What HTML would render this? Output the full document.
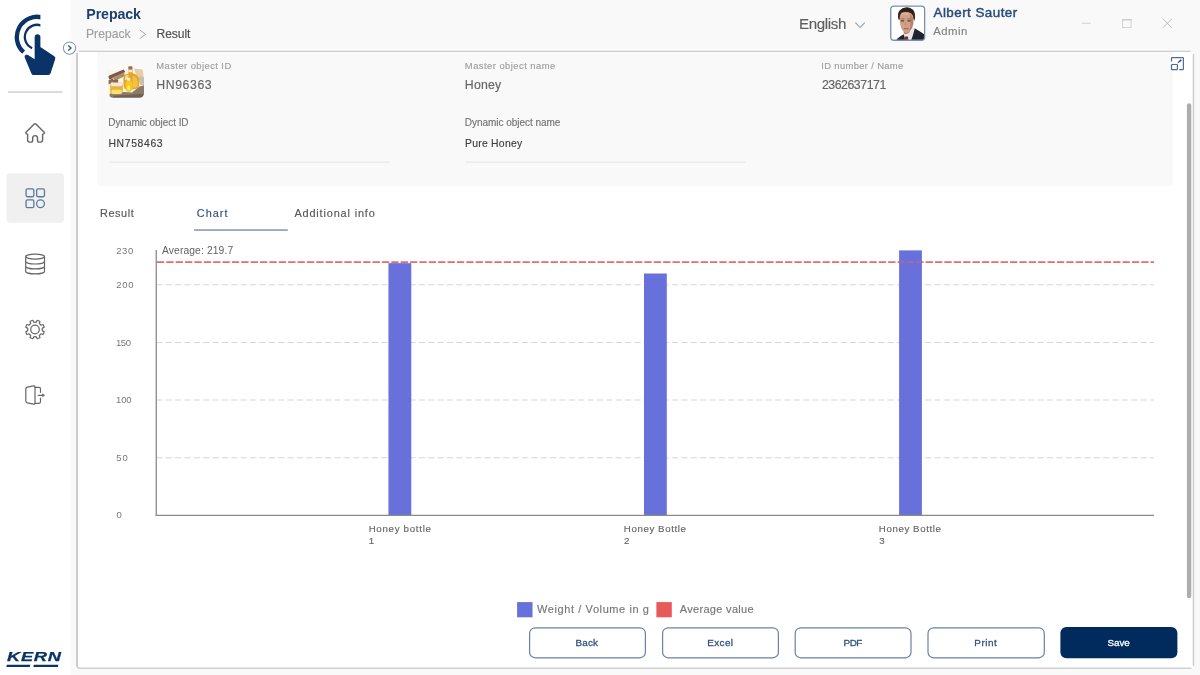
<!DOCTYPE html>
<html lang="en">
<head>
<meta charset="utf-8">
<title>Prepack - Result</title>
<style>
*{box-sizing:border-box;margin:0;padding:0}
html,body{width:1200px;height:675px;overflow:hidden;background:#f9f9f9;font-family:"Liberation Sans",sans-serif}
#app{position:relative;width:1200px;height:675px;overflow:hidden;background:#f9f9f9}
.t{position:absolute;white-space:pre;margin:0;padding:0;border:0;background:none;font-family:"Liberation Sans",sans-serif;font-style:normal;text-align:left;cursor:default}
button.t{cursor:pointer;display:block}
h1.t,p.t{font-weight:400}
#side{position:absolute;left:0;top:0;width:70.5px;height:675px;background:#fff}
svg{position:absolute;overflow:visible}
</style>
</head>
<body>
<div id="app">
  <aside id="side" aria-label="Sidebar"></aside>
    <!--BASE_START-->
<svg width="1200" height="675" viewBox="0 0 1200 675" style="left:0;top:0">
  <!-- content panel -->
  <rect x="77" y="51.4" width="1116.5" height="616.8" rx="2.5" fill="#fff"/>
  <rect x="76.05" y="52.8" width="1.95" height="614" rx="0.6" fill="#cbcbcb"/>
  <path d="M77,665.5 Q77.2,668.2 80,668.2" fill="none" stroke="#cfcfcf" stroke-width="1.4"/>
  <rect x="78.6" y="50.7" width="1112.2" height="1.25" fill="#cdcdcd"/>
  <rect x="1192.7" y="54" width="1.5" height="611.8" fill="#cdcdcd"/>
  <rect x="79.5" y="667.5" width="1112" height="1.45" fill="#d0d0d0"/>
  <!-- info card -->
  <path d="M97.4,52.1 H1173 V182.2 Q1173,186 1169.2,186 H101.2 Q97.4,186 97.4,182.2 Z" fill="#f9f9f9"/>
  <rect x="108.7" y="161.6" width="280.5" height="1.2" fill="#e9e9e9"/>
  <rect x="465.3" y="161.6" width="280.2" height="1.2" fill="#e9e9e9"/>
  <!-- tab underline -->
  <rect x="194" y="229.4" width="93.8" height="1.25" fill="#6281a8"/>
  <!-- scrollbar -->
  <rect x="1186.9" y="103.3" width="4.4" height="494.9" rx="2.2" fill="#adadad"/>
  <!-- buttons -->
  <g fill="#fff" stroke="#6683a5" stroke-width="1.2">
    <rect x="529.6" y="627.8" width="115.8" height="30" rx="5.6"/>
    <rect x="662.6" y="627.8" width="115.8" height="30" rx="5.6"/>
    <rect x="795.2" y="627.8" width="115.8" height="30" rx="5.6"/>
    <rect x="928" y="627.8" width="116.3" height="30" rx="5.6"/>
  </g>
  <rect x="1060.4" y="627.1" width="117" height="31.2" rx="6" fill="#002b5c"/>
</svg>
<!--BASE_END-->
  <!--ICONS_START-->
<svg width="1200" height="675" viewBox="0 0 1200 675" style="left:0;top:0">
  <!-- app logo: touch hand -->
  <clipPath id="cpL"><rect x="0" y="0" width="40.4" height="80"/></clipPath>
  <g fill="none" stroke="#0a3468" clip-path="url(#cpL)">
    <path d="M43.24,17.79 A20.2,20.2 0 0 0 23.62,52.13" stroke-width="4.3"/>
    <path d="M41.96,25.85 A12.2,12.2 0 1 0 32.12,48.18" stroke-width="2.3"/>
  </g>
  <path fill="#0a3468" d="M34.65,37 A2.88,2.88 0 0 1 40.4,37 L40.4,46.9 L54.3,56.2 Q55.8,57.3 55.2,59 L50.6,73.3 Q50,75 48.3,75 L33.5,75 Q32,75 31.4,73.5 L24.7,57.5 Q24,55.4 26,54.8 Q27,54.5 28,55 L34.65,59.2 Z"/>
  <!-- sidebar toggle -->
  <circle cx="69.5" cy="48.1" r="6.15" fill="#fff" stroke="#8199b5" stroke-width="1.05"/>
  <path d="M68.3,45.6 L71,48.1 L68.3,50.6" fill="none" stroke="#3a5a88" stroke-width="1.35" stroke-linejoin="miter"/>
  <!-- divider -->
  <rect x="8" y="91.4" width="54.5" height="1.3" fill="#c9c9c9"/>
  <!-- home -->
  <path d="M34.3,124.1 Q35.1,123.4 35.9,124.1 L44.2,132.2 Q44.9,133 43.9,133.6 L42.6,134.3 L42.6,140 Q42.6,142.1 40.5,142.1 L39.4,142.1 Q37.5,142.1 37.5,140.2 L37.5,138 A2.4,2.4 0 0 0 32.7,138 L32.7,140.2 Q32.7,142.1 30.8,142.1 L29.7,142.1 Q27.6,142.1 27.6,140 L27.6,134.3 L26.3,133.6 Q25.3,133 26,132.2 Z" fill="none" stroke="#666" stroke-width="1.4" stroke-linejoin="round"/>
  <!-- active item -->
  <rect x="6.4" y="173.3" width="57.6" height="49.4" rx="4" fill="#f0f0f0"/>
  <g fill="none" stroke="#5b7a9e" stroke-width="1.3">
    <rect x="26.05" y="188.95" width="7.8" height="7.8" rx="1.4"/>
    <rect x="36.65" y="188.95" width="7.8" height="7.8" rx="1.4"/>
    <rect x="26.05" y="199.85" width="7.8" height="7.8" rx="1.4"/>
    <circle cx="40.5" cy="203.7" r="3.9"/>
  </g>
  <!-- database -->
  <g fill="none" stroke="#666" stroke-width="1.2">
    <ellipse cx="35.1" cy="256.6" rx="9.4" ry="2.5"/>
    <path d="M25.7,256.6 L25.7,271.4 A9.4,2.5 0 0 0 44.5,271.4 L44.5,256.6"/>
    <path d="M25.7,261.5 A9.4,2.5 0 0 0 44.5,261.5"/>
    <path d="M25.7,266.4 A9.4,2.5 0 0 0 44.5,266.4"/>
  </g>
  <!-- gear -->
  <g fill="none" stroke="#666" stroke-width="1.2" stroke-linejoin="round">
    <path d="M42.21,330.64 L44.24,331.72 A9.50,9.50 0 0 1 43.10,334.46 L40.91,333.79 A7.30,7.30 0 0 1 39.29,335.41 L39.96,337.60 A9.50,9.50 0 0 1 37.22,338.74 L36.14,336.71 A7.30,7.30 0 0 1 33.86,336.71 L32.78,338.74 A9.50,9.50 0 0 1 30.04,337.60 L30.71,335.41 A7.30,7.30 0 0 1 29.09,333.79 L26.90,334.46 A9.50,9.50 0 0 1 25.76,331.72 L27.79,330.64 A7.30,7.30 0 0 1 27.79,328.36 L25.76,327.28 A9.50,9.50 0 0 1 26.90,324.54 L29.09,325.21 A7.30,7.30 0 0 1 30.71,323.59 L30.04,321.40 A9.50,9.50 0 0 1 32.78,320.26 L33.86,322.29 A7.30,7.30 0 0 1 36.14,322.29 L37.22,320.26 A9.50,9.50 0 0 1 39.96,321.40 L39.29,323.59 A7.30,7.30 0 0 1 40.91,325.21 L43.10,324.54 A9.50,9.50 0 0 1 44.24,327.28 L42.21,328.36 A7.30,7.30 0 0 1 42.21,330.64 Z"/>
    <circle cx="35" cy="329.5" r="4.3"/>
  </g>
  <!-- logout -->
  <g fill="none" stroke="#666" stroke-width="1.2" stroke-linejoin="round" stroke-linecap="round">
    <path d="M27.3,387.2 L33.6,385.8 Q35,385.6 35,387 L35,403 Q35,404.4 33.6,404.2 L27.3,402.8 Q25.8,402.4 25.8,401 L25.8,389 Q25.8,387.6 27.3,387.2 Z"/>
    <path d="M35,387.4 L39,387.4 Q40.5,387.4 40.5,388.9 L40.5,392.3 M40.5,398 L40.5,401.8 Q40.5,403.3 39,403.3 L35,403.3"/>
    <path d="M38.3,395.3 L43,395.3"/>
  </g>
  <path d="M42.3,393.3 L45,395.3 L42.3,397.3 Z" fill="#666"/>
  <!-- KERN bars -->
  <path d="M6.9,664.7 L30.3,664.7 L29.7,667 L6.3,667 Z M33.9,664.7 L58.4,664.7 L57.8,667 L33.3,667 Z" fill="#0a3468"/>
  <!-- breadcrumb chevron -->
  <path d="M139.8,30 L145.8,34.3 L139.8,38.6" fill="none" stroke="#a8a8a8" stroke-width="1"/>
  <!-- language chevron -->
  <path d="M855.4,22.6 L860.1,27.5 L864.8,22.6" fill="none" stroke="#8a9db9" stroke-width="1.05"/>
  <!-- window controls -->
  <rect x="1081.7" y="22.7" width="9" height="1" fill="#cfcfcf"/>
  <rect x="1122.5" y="19.5" width="8.6" height="8" fill="none" stroke="#cfcfcf" stroke-width="0.9"/>
  <rect x="1122" y="19" width="9.6" height="1.6" fill="#cfcfcf"/>
  <path d="M1162.9,18.9 L1171.9,27.7 M1171.9,18.9 L1162.9,27.7" fill="none" stroke="#b9b9b9" stroke-width="0.9"/>
  <!-- expand icon -->
  <g fill="none" stroke="#506e98" stroke-width="1.2" stroke-linejoin="round">
    <path d="M1171.5,61.6 L1171.5,58.4 Q1171.5,57.7 1172.2,57.7 L1182.7,57.7 Q1183.4,57.7 1183.4,58.4 L1183.4,68.9 Q1183.4,69.6 1182.7,69.6 L1179.2,69.6"/>
    <rect x="1171.5" y="64.5" width="5.9" height="5.1" rx="0.6"/>
    <path d="M1177.9,62.9 L1180.6,60.4" stroke="#2a4a78"/>
  </g>
  <circle cx="1180.6" cy="60.4" r="1" fill="#2a4a78"/>
</svg>
<!--ICONS_END-->
  <!--PICS_START-->
<svg width="1200" height="675" viewBox="0 0 1200 675" style="left:0;top:0">
  <defs>
    <clipPath id="cpH"><rect x="108.6" y="64.3" width="35.4" height="33.5" rx="4.5"/></clipPath>
    <clipPath id="cpA"><rect x="890.8" y="6.1" width="33.8" height="34.1" rx="3.2"/></clipPath>
    <filter id="bl1" x="-20%" y="-20%" width="140%" height="140%"><feGaussianBlur stdDeviation="0.7"/></filter>
    <filter id="bl2" x="-20%" y="-20%" width="140%" height="140%"><feGaussianBlur stdDeviation="0.75"/></filter>
  </defs>
  <!-- honey product picture -->
  <g clip-path="url(#cpH)">
    <rect x="106" y="62" width="41" height="39" fill="#f8f3ed"/>
    <g filter="url(#bl1)">
      <rect x="106" y="60" width="41" height="10" fill="#fdfbf9"/>
      <path d="M107,76.5 L123.5,69.4 L125.4,72 L110,79.6 Z" fill="#7a5a42"/>
      <path d="M112,77.5 L124,72.5 L125,76 L116,80.5 Z" fill="#b08c68"/>
      <path d="M107.5,80.5 L113,78.6 L114,82.4 L108,84.6 Z" fill="#8c6a50"/>
      <path d="M133.6,68.6 L142.6,69.6 L143.6,77 L137,76 Z" fill="#e6cfa8"/>
      <path d="M138.4,76 L144,77 L144.4,86 L139.8,84.6 Z" fill="#cdbfae"/>
      <path d="M110,93.4 L124,92 L132,92.6 L139.4,86.6 L146,85 L146,100 L108,100 Z" fill="#8a7a66"/>
      <path d="M114,95.8 L144,94 L144,100 L112,100 Z" fill="#6e6152"/>
      <path d="M123.4,79 Q123.2,74.4 128.4,73.6 L128.6,69.6 L132.6,69.6 L132.8,73.6 Q139,74.6 139.2,80 L139,86.6 Q138,89.4 132,89.2 L125,89 Q123.2,87 123.4,79 Z" fill="#e6a526"/>
      <path d="M132.6,76 Q137.8,77 137.8,82 L137.6,86.6 Q134.6,88.6 132.4,87.8 Z" fill="#f4c040"/>
      <path d="M125,76.4 Q126.6,74.8 128.6,75 L128.2,79.6 L125,80 Z" fill="#f6d98a"/>
      <rect x="128.3" y="66.3" width="4.2" height="3.6" rx="0.8" fill="#96704c"/>
      <rect x="128.7" y="69.6" width="3.6" height="2.6" fill="#f6ead0"/>
      <path d="M110.2,86 Q110,82.6 112.6,82.4 L120.6,82.4 Q123.2,82.6 123,86 L122.8,92 Q122.6,94.2 120,94.2 L113,94.2 Q110.4,94.2 110.2,92 Z" fill="#ecb136"/>
      <rect x="110.8" y="82.2" width="11.8" height="4" rx="1.4" fill="#f2e8da"/>
      <rect x="111.6" y="89.8" width="10" height="4.2" rx="1.4" fill="#fbe074"/>
      <rect x="113" y="79.6" width="5.2" height="3" rx="0.9" fill="#8e6644"/>
      <path d="M125.6,84.4 Q125.6,81 127.4,80.6 L130.4,80.6 Q132.2,81 132.2,84.4 L132.1,89.6 Q131.6,92 128.8,92 Q126,92 125.7,89.6 Z" fill="#f5c81c"/>
      <rect x="126.8" y="77.8" width="3.6" height="3" rx="1" fill="#f0eeec"/>
      <rect x="127.4" y="85.4" width="2.6" height="4.8" rx="1.3" fill="#ffec7a"/>
    </g>
  </g>
  <!-- user avatar -->
  <rect x="890.1" y="5.4" width="35.2" height="35.5" rx="3.8" fill="#fff"/>
  <g clip-path="url(#cpA)">
    <g filter="url(#bl2)">
      <path d="M895.5,42 L897,39 Q899.5,36.3 904.2,34 L906.5,36 L911.5,31 L913.6,28.3 Q915.5,28.6 917.5,30 Q922,32.6 924.6,34.6 L926,42 Z" fill="#20232f"/>
      <path d="M903.4,33.2 L904.6,37.5 L905.6,42 L910.6,42 L913,35 L914.8,28.6 L911.8,27.6 L909,32 Z" fill="#ebe7e6"/>
      <path d="M904.9,36.6 L908,36.4 L908.4,42 L904.7,42 Z" fill="#8a2830"/>
      <path d="M903.4,29 L903.8,33.6 Q906.4,35.4 909.4,32.6 L910.6,28 Z" fill="#b98570"/>
      <ellipse cx="906.4" cy="15.6" rx="8.1" ry="8" fill="#38261f"/>
      <path d="M899.6,18 Q899.4,12.4 906.4,11.6 Q913.4,12.2 913.4,18.6 Q913.6,24 911.6,28 Q909.6,32.6 906.6,33 Q903.4,32.6 901.4,28.6 Q899.8,24.6 899.6,18 Z" fill="#cf9f88"/>
      <path d="M910.2,14 Q913.8,18 913.4,23.5 Q912.8,28.6 909.2,31.4 Q911,26 910.8,21 Z" fill="#a9755e" opacity="0.75"/>
      <path d="M901,12.6 Q905.5,11.2 909.6,12.4 L909,15.6 Q905,14.4 901.4,15.6 Z" fill="#dcb09a" opacity="0.8"/>
      <path d="M898.4,20.4 Q897.2,13 899.6,10.4 Q902.4,7.5 907,7.6 Q912.4,7.9 914.2,11.6 Q915.6,15 914.6,21.4 Q913.8,17.6 913.2,15.6 Q911.4,12.6 908.6,12.2 Q904.4,11.6 901.4,12.6 Q899.6,14.4 899.2,17 Q898.9,19 898.4,20.4 Z" fill="#38261f"/>
      <path d="M899.8,11.4 Q903,8 907.6,8.2 Q912.6,8.8 913.8,12.8 Q910,10.6 906.4,10.8 Q902.4,11 899.8,11.4 Z" fill="#2f1f1a"/>
      <rect x="900.8" y="20.2" width="3.4" height="1.3" rx="0.6" fill="#5a3c34"/>
      <rect x="907.4" y="20.2" width="3.4" height="1.3" rx="0.6" fill="#5a3c34"/>
      <rect x="900.6" y="18.6" width="3.8" height="0.7" fill="#7a5444" opacity="0.8"/>
      <rect x="907.2" y="18.6" width="3.8" height="0.7" fill="#7a5444" opacity="0.8"/>
      <path d="M905.6,21.6 L904.9,25.4 L906.9,25.6 Z" fill="#b9836c" opacity="0.7"/>
      <rect x="903.8" y="28" width="5" height="1.2" rx="0.6" fill="#b0655c"/>
    </g>
  </g>
  <rect x="890.75" y="6.05" width="33.9" height="34.2" rx="3.3" fill="none" stroke="#7690ae" stroke-width="1.3"/>
</svg>
<!--PICS_END-->
  <!--CHART_START-->
<svg width="1200" height="675" viewBox="0 0 1200 675" style="left:0;top:0">
  <g stroke="#d4d8dc" stroke-width="1.05" stroke-dasharray="6.25 3.125" fill="none">
    <line x1="156.25" y1="284.8" x2="1154" y2="284.8"/>
    <line x1="156.25" y1="342.4" x2="1154" y2="342.4"/>
    <line x1="156.25" y1="400" x2="1154" y2="400"/>
    <line x1="156.25" y1="457.7" x2="1154" y2="457.7"/>
  </g>
  <line x1="156.9" y1="262.1" x2="1154" y2="262.1" stroke="#e36c6c" stroke-width="1.8" stroke-dasharray="7.3 2.075"/>
  <g fill="#6870db">
    <rect x="388.45" y="263.15" width="22.85" height="252.2"/>
    <rect x="644" y="273.5" width="22.8" height="241.8"/>
    <rect x="899.1" y="250.4" width="22.8" height="264.9"/>
  </g>
  <line x1="899.1" y1="262.1" x2="921.9" y2="262.1" stroke="#cc6084" stroke-opacity="0.75" stroke-width="1.8" stroke-dasharray="7.3 2.075" stroke-dashoffset="1.575"/>
  <rect x="517.1" y="602.1" width="15.4" height="15.2" fill="#6870db"/>
  <rect x="656.4" y="602.1" width="15.4" height="15.2" fill="#e65a5a"/>
  <line x1="156.25" y1="250" x2="156.25" y2="515.9" stroke="#8a8a8a" stroke-width="1.3"/>
  <line x1="155.65" y1="515.3" x2="1154" y2="515.3" stroke="#8a8a8a" stroke-width="1.3"/>
</svg>
<!--CHART_END-->
<div id="kern" class="t" style="left:7.4px;top:650.3px;font-size:12.6px;line-height:15px;font-weight:700;font-style:italic;color:#0a3468;letter-spacing:0.5px;transform-origin:0 0;transform:scaleX(1.45);-webkit-text-stroke:0.25px #0a3468">KERN</div>
<header id="topbar">
  <h1 class="t" style="left:86.30px;top:6.01px;font-size:14.2px;line-height:17.04px;font-weight:700;color:#1f3f6e;letter-spacing:-0.092px">Prepack</h1>
  <span class="t" style="left:86.00px;top:27.00px;font-size:12.1px;line-height:14.52px;font-weight:400;color:#a0a0a0;letter-spacing:0.033px;-webkit-text-stroke:0.15px #a0a0a0">Prepack</span>
  <span class="t" style="left:156.50px;top:27.00px;font-size:12.1px;line-height:14.52px;font-weight:400;color:#505050;letter-spacing:-0.070px;-webkit-text-stroke:0.15px #505050">Result</span>
  <span class="t" style="left:799.05px;top:14.86px;font-size:15.1px;line-height:18.12px;font-weight:400;color:#5e5e5e;letter-spacing:-0.350px;-webkit-text-stroke:0.15px #5e5e5e">English</span>
  <span class="t" style="left:933.55px;top:4.77px;font-size:13.4px;line-height:16.08px;font-weight:400;color:#2a4c7c;letter-spacing:0.458px;-webkit-text-stroke:0.45px #2a4c7c">Albert Sauter</span>
  <span class="t" style="left:933.30px;top:24.85px;font-size:11.3px;line-height:13.56px;font-weight:400;color:#828282;letter-spacing:0.500px;-webkit-text-stroke:0.15px #828282">Admin</span>
</header>
<section id="object-info" aria-label="Object information">
  <div class="t" style="left:156.35px;top:60.35px;font-size:9.4px;line-height:11.28px;font-weight:400;color:#a0a0a0;letter-spacing:0.437px;-webkit-text-stroke:0.15px #a0a0a0">Master object ID</div>
  <div class="t" style="left:156.30px;top:78.11px;font-size:12.3px;line-height:14.76px;font-weight:400;color:#666;letter-spacing:0.567px;-webkit-text-stroke:0.15px #666">HN96363</div>
  <div class="t" style="left:464.85px;top:60.35px;font-size:9.4px;line-height:11.28px;font-weight:400;color:#a0a0a0;letter-spacing:0.474px;-webkit-text-stroke:0.15px #a0a0a0">Master object name</div>
  <div class="t" style="left:464.80px;top:78.11px;font-size:12.3px;line-height:14.76px;font-weight:400;color:#666;letter-spacing:0.225px;-webkit-text-stroke:0.15px #666">Honey</div>
  <div class="t" style="left:821.25px;top:60.35px;font-size:9.4px;line-height:11.28px;font-weight:400;color:#a0a0a0;letter-spacing:0.360px;-webkit-text-stroke:0.15px #a0a0a0">ID number / Name</div>
  <div class="t" style="left:821.90px;top:78.11px;font-size:12.3px;line-height:14.76px;font-weight:400;color:#666;letter-spacing:-0.444px;-webkit-text-stroke:0.15px #666">2362637171</div>
  <div class="t" style="left:108.25px;top:116.89px;font-size:10.0px;line-height:12.0px;font-weight:400;color:#747474;letter-spacing:-0.050px;-webkit-text-stroke:0.15px #747474">Dynamic object ID</div>
  <div class="t" style="left:108.45px;top:137.71px;font-size:10.4px;line-height:12.48px;font-weight:400;color:#404040;letter-spacing:0.643px;-webkit-text-stroke:0.15px #404040">HN758463</div>
  <div class="t" style="left:464.85px;top:116.89px;font-size:10.0px;line-height:12.0px;font-weight:400;color:#747474;letter-spacing:-0.039px;-webkit-text-stroke:0.15px #747474">Dynamic object name</div>
  <div class="t" style="left:464.95px;top:137.71px;font-size:10.4px;line-height:12.48px;font-weight:400;color:#404040;letter-spacing:0.261px;-webkit-text-stroke:0.15px #404040">Pure Honey</div>
</section>
<nav id="tabs" aria-label="Result tabs">
  <a class="t" style="left:99.95px;top:207.13px;font-size:10.9px;line-height:13.08px;font-weight:400;color:#585858;letter-spacing:0.600px;-webkit-text-stroke:0.15px #585858">Result</a>
  <a class="t" style="left:196.80px;top:207.13px;font-size:10.9px;line-height:13.08px;font-weight:400;color:#2f5283;letter-spacing:1.012px;-webkit-text-stroke:0.15px #2f5283">Chart</a>
  <a class="t" style="left:294.40px;top:207.13px;font-size:10.9px;line-height:13.08px;font-weight:400;color:#585858;letter-spacing:0.857px;-webkit-text-stroke:0.15px #585858">Additional info</a>
</nav>
<section id="chart" aria-label="Weight chart">
  <div class="t" style="left:162.00px;top:244.70px;font-size:10.3px;line-height:12.36px;font-weight:400;color:#606060;letter-spacing:0.112px">Average: 219.7</div>
  <div class="t" style="left:116.20px;top:245.16px;font-size:9.5px;line-height:11.4px;font-weight:400;color:#787878;letter-spacing:0.650px">230</div>
  <div class="t" style="left:116.20px;top:279.06px;font-size:9.5px;line-height:11.4px;font-weight:400;color:#787878;letter-spacing:0.800px">200</div>
  <div class="t" style="left:115.95px;top:337.26px;font-size:9.5px;line-height:11.4px;font-weight:400;color:#787878;letter-spacing:-0.375px">150</div>
  <div class="t" style="left:115.95px;top:394.36px;font-size:9.5px;line-height:11.4px;font-weight:400;color:#787878;letter-spacing:-0.075px">100</div>
  <div class="t" style="left:116.20px;top:452.06px;font-size:9.5px;line-height:11.4px;font-weight:400;color:#787878;letter-spacing:1.100px">50</div>
  <div class="t" style="left:116.45px;top:508.86px;font-size:9.5px;line-height:11.4px;font-weight:400;color:#787878;letter-spacing:0.000px">0</div>
  <div class="t" style="left:368.65px;top:522.87px;font-size:9.7px;line-height:11.64px;font-weight:400;color:#666;letter-spacing:0.714px;-webkit-text-stroke:0.15px #666">Honey bottle</div>
  <div class="t" style="left:368.65px;top:535.17px;font-size:9.7px;line-height:11.64px;font-weight:400;color:#666;letter-spacing:0.000px;-webkit-text-stroke:0.15px #666">1</div>
  <div class="t" style="left:623.85px;top:522.87px;font-size:9.7px;line-height:11.64px;font-weight:400;color:#666;letter-spacing:0.595px;-webkit-text-stroke:0.15px #666">Honey Bottle</div>
  <div class="t" style="left:624.10px;top:535.17px;font-size:9.7px;line-height:11.64px;font-weight:400;color:#666;letter-spacing:0.000px;-webkit-text-stroke:0.15px #666">2</div>
  <div class="t" style="left:878.85px;top:522.87px;font-size:9.7px;line-height:11.64px;font-weight:400;color:#666;letter-spacing:0.595px;-webkit-text-stroke:0.15px #666">Honey Bottle</div>
  <div class="t" style="left:879.35px;top:535.17px;font-size:9.7px;line-height:11.64px;font-weight:400;color:#666;letter-spacing:0.000px;-webkit-text-stroke:0.15px #666">3</div>
  <div class="t" style="left:537.00px;top:603.34px;font-size:11px;line-height:13.2px;font-weight:400;color:#777;letter-spacing:0.595px;-webkit-text-stroke:0.15px #777">Weight / Volume in g</div>
  <div class="t" style="left:679.70px;top:603.34px;font-size:11px;line-height:13.2px;font-weight:400;color:#777;letter-spacing:0.321px;-webkit-text-stroke:0.15px #777">Average value</div>
</section>
<footer id="actions">
  <button class="t" style="left:575.55px;top:637.08px;font-size:9.9px;line-height:11.88px;font-weight:400;color:#2f5283;letter-spacing:0.167px;-webkit-text-stroke:0.3px #2f5283">Back</button>
  <button class="t" style="left:707.25px;top:637.08px;font-size:9.9px;line-height:11.88px;font-weight:400;color:#2f5283;letter-spacing:0.400px;-webkit-text-stroke:0.3px #2f5283">Excel</button>
  <button class="t" style="left:843.55px;top:637.08px;font-size:9.9px;line-height:11.88px;font-weight:400;color:#2f5283;letter-spacing:-0.500px;-webkit-text-stroke:0.3px #2f5283">PDF</button>
  <button class="t" style="left:974.25px;top:637.08px;font-size:9.9px;line-height:11.88px;font-weight:400;color:#2f5283;letter-spacing:0.562px;-webkit-text-stroke:0.3px #2f5283">Print</button>
  <button class="t" style="left:1107.45px;top:637.08px;font-size:9.9px;line-height:11.88px;font-weight:400;color:#ffffff;letter-spacing:-0.033px;-webkit-text-stroke:0.3px #ffffff">Save</button>
</footer>
</div>
</body>
</html>
